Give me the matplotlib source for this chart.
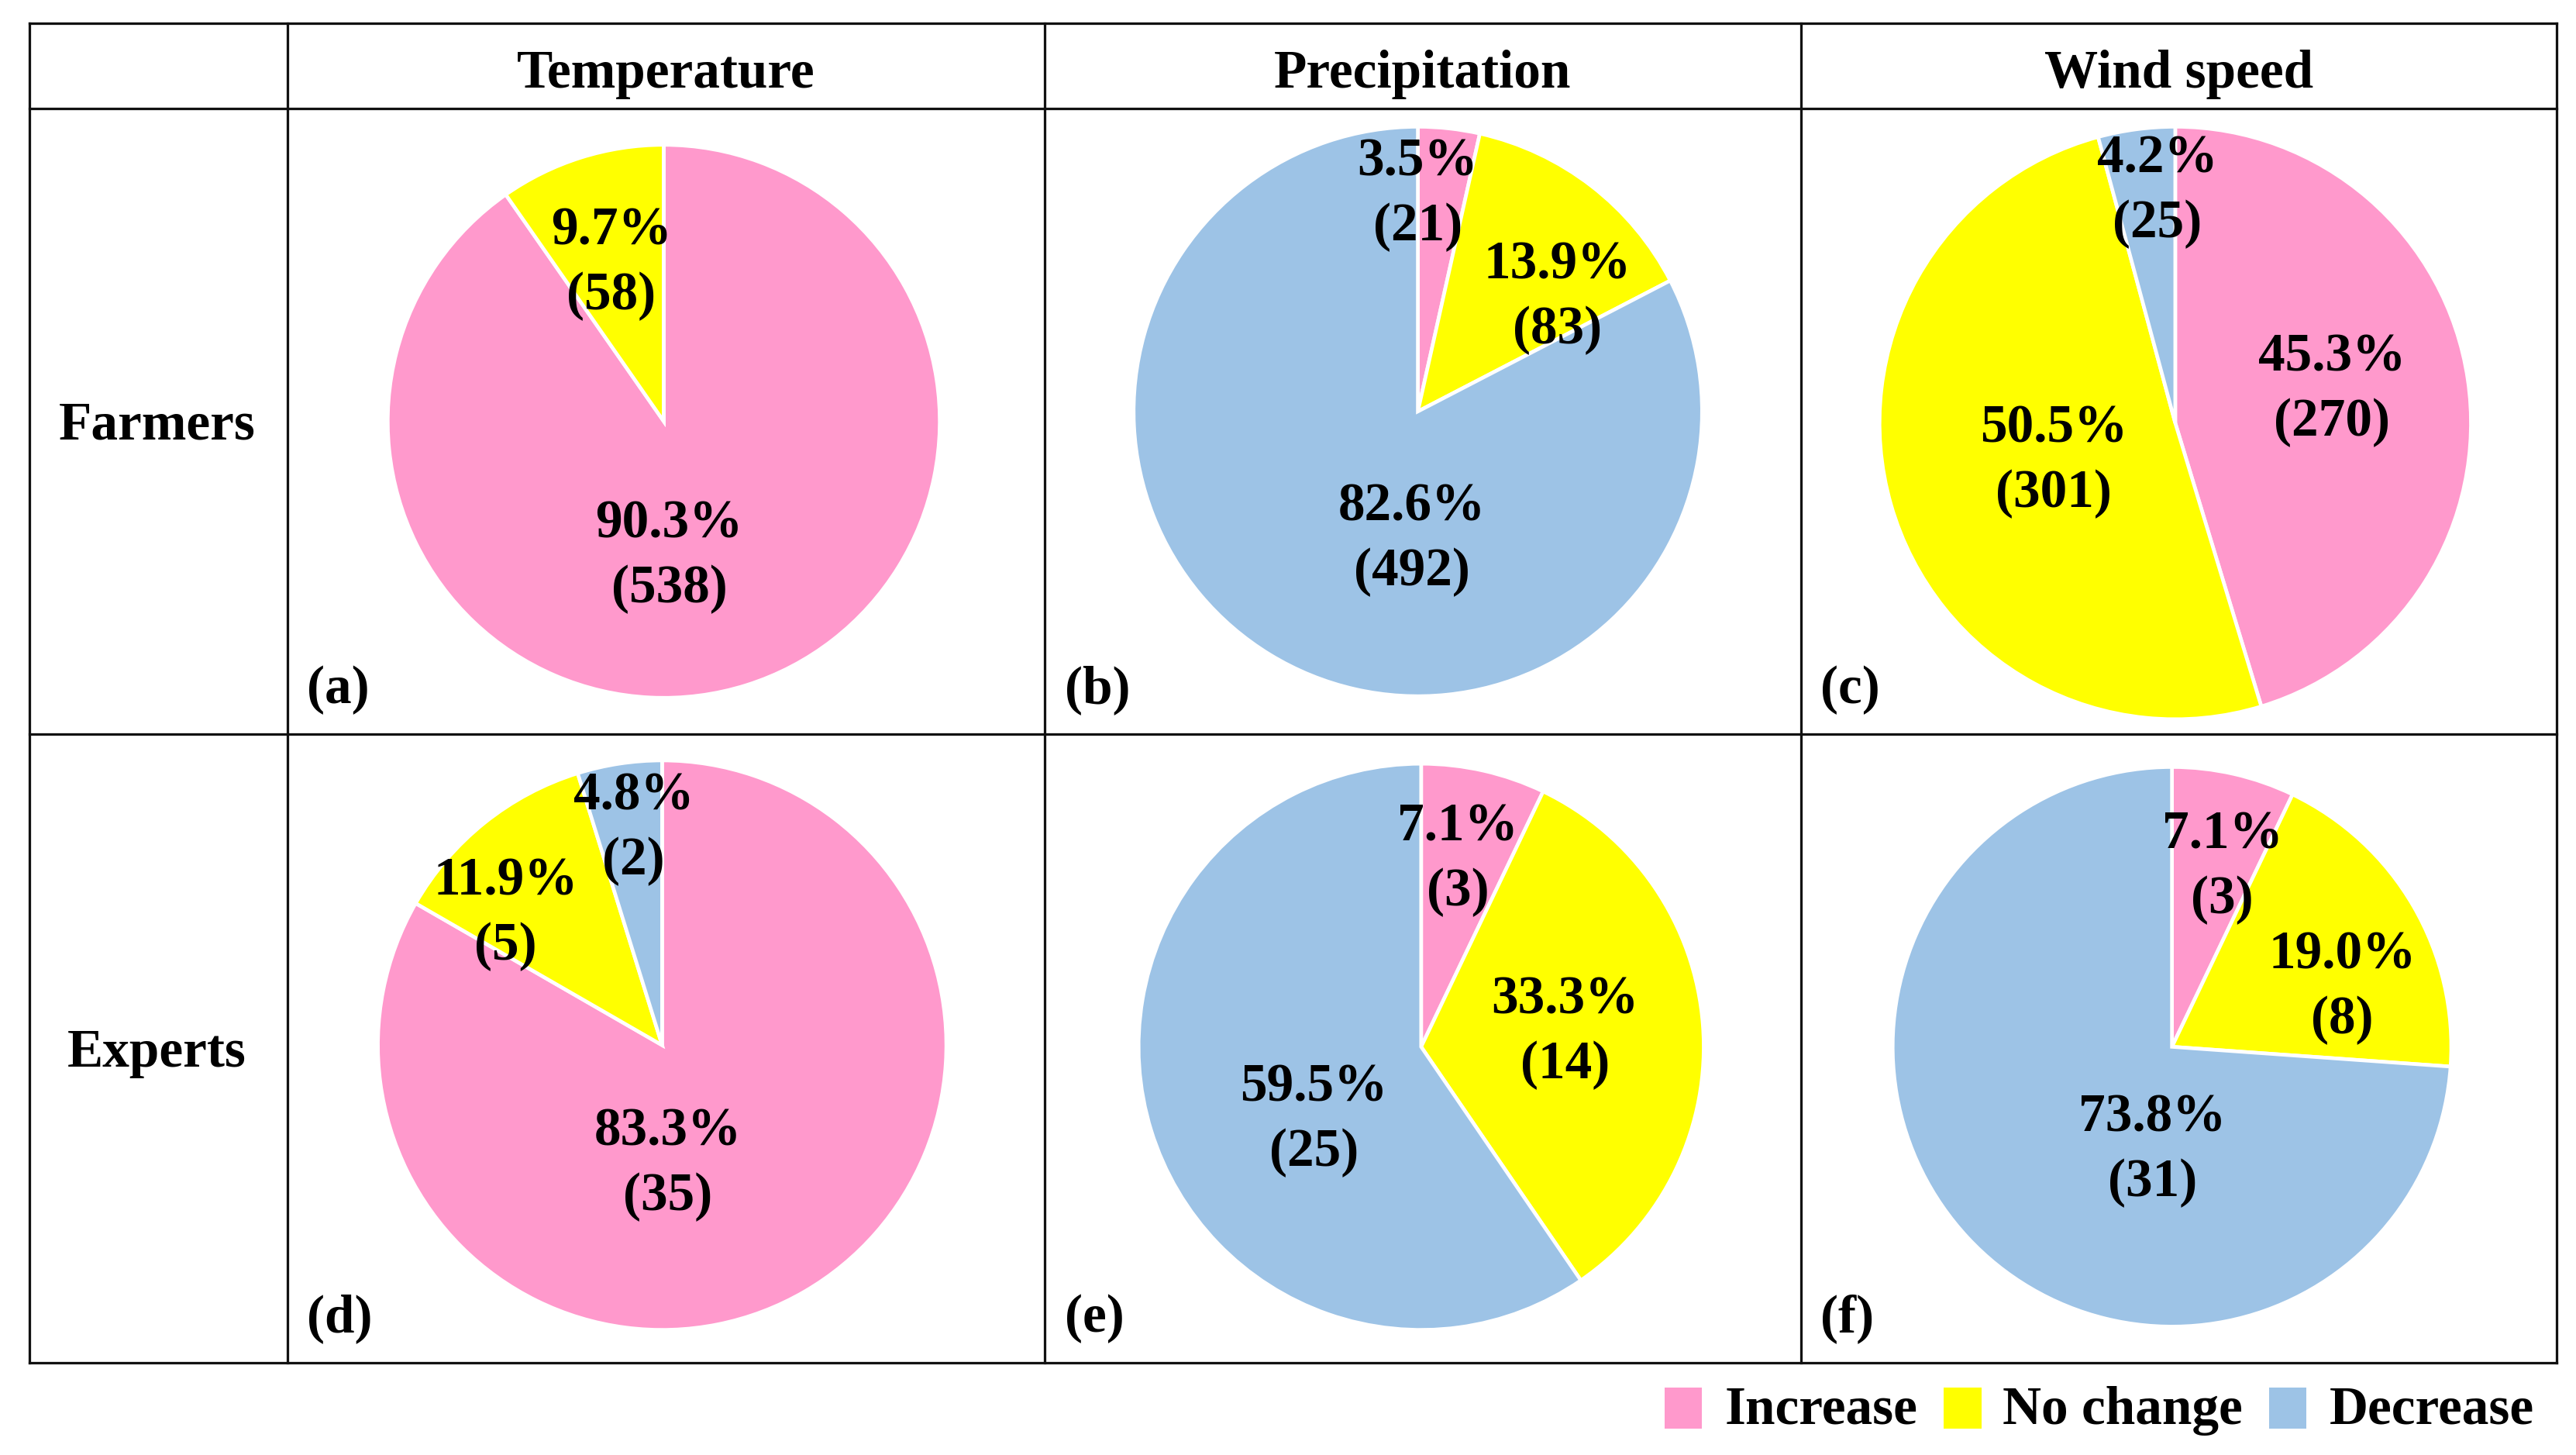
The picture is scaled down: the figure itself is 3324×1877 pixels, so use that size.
import numpy as np
import matplotlib
matplotlib.use("Agg")
import matplotlib.pyplot as plt
from matplotlib.patches import Rectangle

plt.rcParams["font.family"] = ["Liberation Serif", "DejaVu Serif"]
plt.rcParams["font.weight"] = "bold"

# ---- data ----
columns = ["Temperature", "Precipitation", "Wind speed"]
rows = ["Farmers", "Experts"]
categories = ["Increase", "No change", "Decrease"]
colors = ["#FF99CC", "#FFFF00", "#9DC3E6"]

# percentages (Increase, No change, Decrease) and counts
pct_farmers = [[90.3, 9.7, 0.0], [3.5, 13.9, 82.6], [45.3, 50.5, 4.2]]
cnt_farmers = [[538, 58, 0], [21, 83, 492], [270, 301, 25]]
pct_experts = [[83.3, 11.9, 4.8], [7.1, 33.3, 59.5], [7.1, 19.0, 73.8]]
cnt_experts = [[35, 5, 2], [3, 14, 25], [3, 8, 31]]
panel_tags = [["(a)", "(b)", "(c)"], ["(d)", "(e)", "(f)"]]

# ---- layout (in reference pixels, 1568 x 884 canvas) ----
W, H = 1568, 884
col_x = [18, 175, 636, 1096, 1556]
row_y = [14, 66, 446, 828]
# pie centre/radius per panel
pie_geo = [[(404, 256, 168), (863, 250, 173), (1324, 257, 180)],
           [(403, 635, 173), (865, 636, 172), (1322, 636, 170)]]
# label offsets in radius units (per slice)
lab_off = [
    [[(0.02, -0.49), (-0.19, 0.57), None],
     [(0.0, 0.76), (0.49, 0.40), (-0.02, -0.45)],
     [(0.53, 0.11), (-0.41, -0.13), (-0.06, 0.78)]],
    [[(0.02, -0.42), (-0.55, 0.46), (-0.10, 0.76)],
     [(0.13, 0.66), (0.51, 0.05), (-0.38, -0.26)],
     [(0.18, 0.64), (0.61, 0.21), (-0.07, -0.37)]],
]

FS = 23.5
fig = plt.figure(figsize=(15.68, 8.854), dpi=212)
bg = fig.add_axes([0, 0, 1, 1])
bg.set_xlim(0, W)
bg.set_ylim(H, 0)
bg.axis("off")

# table grid
for y in row_y:
    bg.plot([col_x[0], col_x[-1]], [y, y], color="#111111", lw=1.1,
            solid_capstyle="projecting")
for x in col_x:
    bg.plot([x, x], [row_y[0], row_y[-1]], color="#111111", lw=1.1,
            solid_capstyle="projecting")

# headers
for j, name in enumerate(columns):
    bg.text((col_x[j + 1] + col_x[j + 2]) / 2, (row_y[0] + row_y[1]) / 2 + 5,
            name, ha="center", va="center", fontsize=FS, fontweight="bold")
for i, name in enumerate(rows):
    bg.text((col_x[0] + col_x[1]) / 2 - 1, (row_y[i + 1] + row_y[i + 2]) / 2 + 3,
            name, ha="center", va="center", fontsize=FS, fontweight="bold")

all_pct = [pct_farmers, pct_experts]
all_cnt = [cnt_farmers, cnt_experts]

for i in range(2):
    for j in range(3):
        cx, cy, r = pie_geo[i][j]
        ax = fig.add_axes([(cx - r) / W, 1 - (cy + r) / H, 2 * r / W, 2 * r / H])
        vals = all_pct[i][j]
        ax.pie(vals, colors=colors, startangle=90, counterclock=False,
               radius=1.0, wedgeprops=dict(edgecolor="white", linewidth=1.6))
        ax.set_xlim(-1, 1)
        ax.set_ylim(-1, 1)
        ax.set_aspect("auto")
        ax.axis("off")
        for k in range(3):
            off = lab_off[i][j][k]
            if off is None or vals[k] == 0:
                continue
            ax.text(off[0], off[1], f"{vals[k]:.1f}%\n({all_cnt[i][j][k]})",
                    ha="center", va="center", fontsize=FS, fontweight="bold",
                    linespacing=1.4)
        bg.text(col_x[j + 1] + 12, row_y[i + 2] - 27, panel_tags[i][j],
                ha="left", va="center", fontsize=FS, fontweight="bold")

# legend
leg_sq_x = [1013, 1183, 1381]
leg_txt_x = [1050, 1219, 1418]
for k in range(3):
    bg.add_patch(Rectangle((leg_sq_x[k], 843), 23, 25, facecolor=colors[k],
                           edgecolor="none"))
    bg.text(leg_txt_x[k], 857, categories[k], ha="left", va="center",
            fontsize=FS, fontweight="bold")

fig.savefig("out.png", dpi=212)
